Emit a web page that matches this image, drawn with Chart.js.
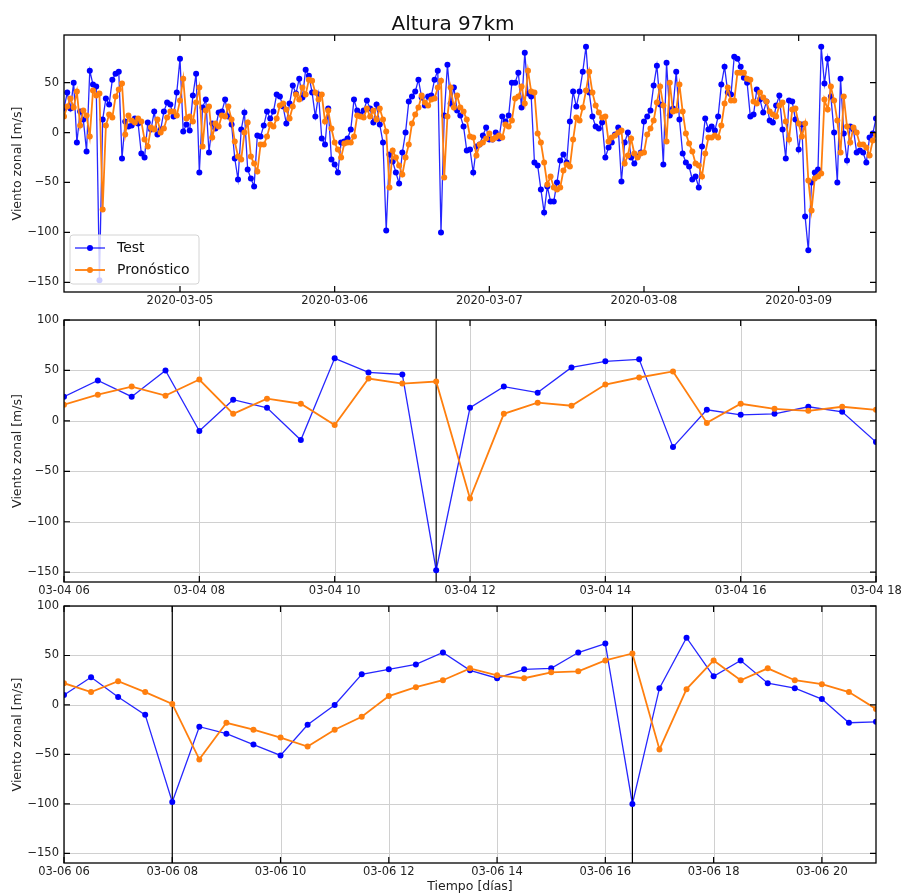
<!DOCTYPE html>
<html>
<head>
<meta charset="utf-8">
<title>Altura 97km</title>
<script src="https://cdn.jsdelivr.net/npm/chart.js@4.4.1/dist/chart.umd.min.js"></script>
<style>
  html, body { margin: 0; padding: 0; background: #fff; }
  body { width: 906px; height: 894px; position: relative; overflow: hidden; }
  canvas { position: absolute; left: 0; }
</style>
</head>
<body>
<canvas id="top" width="906" height="305" style="top:0"></canvas>
<canvas id="mid" width="906" height="295" style="top:305px"></canvas>
<canvas id="bot" width="906" height="294" style="top:600px"></canvas>
<script>
// tiempo en horas desde 2020-03-04 00:00, una muestra cada media hora
var startHour = 6;
var stepHours = 0.5;

var test = [
  24, 40, 24, 50, -10, 21, 13, -19, 62, 48, 46, -148, 13, 34, 28, 53, 59, 61, -26, 11, 6, 7, 14, 9, -21,
  -25, 10, 3, 21, -2, 3, 21, 30, 28, 16, 40, 74, 1, 8, 2, 37, 59, -40, 25, 33, -20, 9, 4, 20, 21,
  33, 16, 8, -26, -47, 3, 20, -37, -46, -54, -3, -4, 7, 21, 14, 21, 38, 36, 26, 9, 29, 47, 39, 54,
  35, 63, 57, 40, 16, 38, -6, -12, 24, -27, -32, -40, -10, -9, -6, 3, 33, 22, 18, 22, 32, 24,
  10, 28, 8, -10, -98, -22, -29, -40, -51, -20, 0, 31, 36, 41, 53, 35, 27, 36, 37, 53, 62, -100, 17, 68, 29, 45, 22, 17, 6, -18, -17,
  -40, -14, -12, -3, 5, -7, -7, 0, -6, 16, 11, 17, 50, 50, 60, 25, 80, 39, 36, -30, -33, -57, -80, -54, -69, -69, -50, -28, -22, -30, 11, 41, 26, 41, 61, 86, 40,
  16, 6, 4, 10, -25, -15, -10, -2, 5, -49, -10, 0, -25, -31, -24, -20, 11, 16, 22, 47, 67, 28, -32, 70, 17, 24, 61, 13, -21, -30, -34, -47, -44, -55, -14, 14, 3,
  6, 2, 16, 48, 66, 40, 38, 76, 74, 66, 55, 50, 16, 18, 43, 33, 20, 31, 12, 10, 27, 37, 3, -26, 32, 31, 13, -17, 8, -84, -118, -50, -40, -37, 86, 49, 74, 36, 0, -50, 54, -1, -28, 6, 3, -20, -18, -20, -30, -5, -1, 14
];

var pronostico = [
  16, 26, 34, 25, 41, 7, 22, 17, -4, 42, 37, 39, -77, 7, 18, 15, 36, 43, 49, -2, 17, 12, 10, 14, 11,
  -7, -14, 5, 3, 13, 0, 4, 15, 21, 21, 17, 32, 54, 14, 16, 11, 30, 45, -14, 22, 26, -5, 9, 6, 17,
  16, 26, 13, -9, -24, -27, 0, 10, -24, -31, -39, -12, -12, -4, 8, 6, 14, 27, 29, 23, 14, 26, 38, 33,
  45, 38, 53, 52, 40, 33, 38, 11, 22, 4, -10, -17, -25, -11, -10, -10, -4, 17, 16, 15, 24, 16,
  22, 13, 24, 13, 1, -55, -18, -25, -33, -42, -25, -12, 9, 18, 25, 37, 30, 27, 33, 34, 45, 52, -45, 16, 45, 25, 37, 25, 21, 13, -4,
  -5, -23, -12, -10, -6, -1, -7, -5, -3, -5, 8, 6, 12, 34, 36, 46, 29, 62, 41, 40, -1, -10, -30, -52, -44, -55, -57, -55, -38, -32, -34, -7, 15, 12, 25, 42, 61,
  40, 27, 20, 15, 16, -9, -5, -3, 0, 2, -31, -23, -6, -21, -25, -21, -20, -2, 4, 12, 30, 46, 27, -9, 50, 21, 22, 48, 21, -1, -11, -19, -31, -33, -44, -21, -5,
  -5, -3, -5, 7, 29, 45, 32, 32, 60, 60, 60, 54, 53, 31, 29, 40, 35, 31, 21, 18, 16, 27, 30, 11, -7, 23, 24, 9, -4, 9, -48, -78, -46, -44, -41, 33, 23, 46, 32, 12, -20, 36, 6, -10, 5, 0, -12, -12, -15, -23, -8, -2
];

// ventanas de los paneles de detalle (indices de las series)
var midRange = [0, 25];
var botRange = [96, 127];

var topXTicks = [24, 48, 72, 96, 120];
var topXLabels = ['2020-03-05', '2020-03-06', '2020-03-07', '2020-03-08', '2020-03-09'];
var midXTicks = [6, 8, 10, 12, 14, 16, 18];
var midXLabels = ['03-04 06', '03-04 08', '03-04 10', '03-04 12', '03-04 14', '03-04 16', '03-04 18'];
var botXTicks = [54, 56, 58, 60, 62, 64, 66, 68];
var botXLabels = ['03-06 06', '03-06 08', '03-06 10', '03-06 12', '03-06 14', '03-06 16', '03-06 18', '03-06 20'];
var topYTicks = [-150, -100, -50, 0, 50];
var yTicks = [-150, -100, -50, 0, 50, 100];
var midMarkers = [11.5];
var botMarkers = [56, 64.5];

var font = "'DejaVu Sans', sans-serif";
var blue = '#0000ff';
var orange = '#ff7f0e';

function toPoints(arr, from, to) {
  var pts = [];
  for (var i = from; i < to; i++) {
    pts.push({ x: startHour + i * stepHours, y: arr[i] });
  }
  return pts;
}

function makeDatasets(from, to) {
  return [
    {
      label: 'Test', data: toPoints(test, from, to), order: 1,
      borderColor: 'rgba(0,0,255,0.85)', borderWidth: 1.3,
      pointRadius: 3, pointBorderWidth: 0, pointBackgroundColor: blue
    },
    {
      label: 'Pronóstico', data: toPoints(pronostico, from, to), order: 0,
      borderColor: orange, borderWidth: 1.8,
      pointRadius: 3, pointBorderWidth: 0, pointBackgroundColor: orange
    }
  ];
}

function fmtY(v) {
  return v < 0 ? '\u2212' + Math.abs(v) : String(v);
}

function panelPlugin(cfg) {
  return {
    id: 'panel',
    beforeDatasetsDraw: function(chart) {
      var ctx = chart.ctx, a = chart.chartArea, sx = chart.scales.x, sy = chart.scales.y;
      ctx.save();
      if (cfg.grid) {
        ctx.strokeStyle = '#d0d0d0';
        ctx.lineWidth = 1;
        ctx.beginPath();
        cfg.xTicks.forEach(function(v) {
          var x = Math.round(sx.getPixelForValue(v)) + 0.5;
          ctx.moveTo(x, a.top); ctx.lineTo(x, a.bottom);
        });
        cfg.yTicks.forEach(function(v) {
          var y = Math.round(sy.getPixelForValue(v)) + 0.5;
          ctx.moveTo(a.left, y); ctx.lineTo(a.right, y);
        });
        ctx.stroke();
      }
      if (cfg.markers) {
        ctx.strokeStyle = '#000';
        ctx.lineWidth = 1.2;
        ctx.beginPath();
        cfg.markers.forEach(function(v) {
          var x = sx.getPixelForValue(v);
          ctx.moveTo(x, a.top); ctx.lineTo(x, a.bottom);
        });
        ctx.stroke();
      }
      ctx.restore();
    },
    afterDatasetsDraw: function(chart) {
      var ctx = chart.ctx, a = chart.chartArea, sx = chart.scales.x, sy = chart.scales.y;
      var tl = 6;
      ctx.save();

      // ticks hacia dentro en los cuatro lados
      ctx.strokeStyle = '#000';
      ctx.lineWidth = 1.2;
      ctx.beginPath();
      cfg.xTicks.forEach(function(v) {
        var x = sx.getPixelForValue(v);
        ctx.moveTo(x, a.bottom); ctx.lineTo(x, a.bottom - tl);
        ctx.moveTo(x, a.top); ctx.lineTo(x, a.top + tl);
      });
      cfg.yTicks.forEach(function(v) {
        var y = sy.getPixelForValue(v);
        ctx.moveTo(a.left, y); ctx.lineTo(a.left + tl, y);
        ctx.moveTo(a.right, y); ctx.lineTo(a.right - tl, y);
      });
      ctx.stroke();

      // marco
      ctx.lineWidth = 1.3;
      ctx.strokeRect(a.left, a.top, a.right - a.left, a.bottom - a.top);

      // etiquetas de los ejes
      ctx.fillStyle = '#222';
      ctx.font = '11.5px ' + font;
      ctx.textAlign = 'center';
      ctx.textBaseline = 'alphabetic';
      cfg.xTicks.forEach(function(v, i) {
        ctx.fillText(cfg.xLabels[i], sx.getPixelForValue(v), a.bottom + 12);
      });
      ctx.textAlign = 'right';
      ctx.textBaseline = 'middle';
      cfg.yTicks.forEach(function(v) {
        ctx.fillText(fmtY(v), a.left - 5, sy.getPixelForValue(v));
      });

      ctx.font = '12.5px ' + font;
      ctx.textAlign = 'center';
      ctx.textBaseline = 'middle';
      ctx.save();
      ctx.translate(18, (a.top + a.bottom) / 2);
      ctx.rotate(-Math.PI / 2);
      ctx.fillText('Viento zonal [m/s]', 0, 0);
      ctx.restore();

      if (cfg.xTitle) {
        ctx.textBaseline = 'alphabetic';
        ctx.fillText(cfg.xTitle, (a.left + a.right) / 2, a.bottom + 27);
      }
      if (cfg.title) {
        ctx.fillStyle = '#111';
        ctx.font = '20px ' + font;
        ctx.textBaseline = 'alphabetic';
        ctx.fillText(cfg.title, 453, 30);
      }

      if (cfg.legend) {
        var lx = 70, ly = 235, lw = 129, lh = 49, r = 3;
        ctx.beginPath();
        ctx.moveTo(lx + r, ly);
        ctx.lineTo(lx + lw - r, ly); ctx.arcTo(lx + lw, ly, lx + lw, ly + r, r);
        ctx.lineTo(lx + lw, ly + lh - r); ctx.arcTo(lx + lw, ly + lh, lx + lw - r, ly + lh, r);
        ctx.lineTo(lx + r, ly + lh); ctx.arcTo(lx, ly + lh, lx, ly + lh - r, r);
        ctx.lineTo(lx, ly + r); ctx.arcTo(lx, ly, lx + r, ly, r);
        ctx.closePath();
        ctx.fillStyle = 'rgba(255,255,255,0.8)';
        ctx.fill();
        ctx.strokeStyle = '#d4d4d4';
        ctx.lineWidth = 1;
        ctx.stroke();

        var rows = [
          { text: 'Test', line: 'rgba(0,0,255,0.85)', dot: blue, w: 1.3, y: 248 },
          { text: 'Pronóstico', line: orange, dot: orange, w: 1.8, y: 270 }
        ];
        ctx.font = '14px ' + font;
        ctx.textAlign = 'left';
        ctx.textBaseline = 'middle';
        rows.forEach(function(row) {
          ctx.strokeStyle = row.line;
          ctx.lineWidth = row.w;
          ctx.beginPath();
          ctx.moveTo(75, row.y); ctx.lineTo(105, row.y);
          ctx.stroke();
          ctx.fillStyle = row.dot;
          ctx.beginPath();
          ctx.arc(90, row.y, 3, 0, Math.PI * 2);
          ctx.fill();
          ctx.fillStyle = '#111';
          ctx.fillText(row.text, 117, row.y);
        });
      }
      ctx.restore();
    }
  };
}

function makeChart(id, from, to, xMin, xMax, yMin, yMax, padding, cfg) {
  return new Chart(document.getElementById(id), {
    type: 'line',
    data: { datasets: makeDatasets(from, to) },
    options: {
      responsive: false,
      animation: false,
      devicePixelRatio: 1,
      events: [],
      layout: { padding: padding },
      plugins: { legend: { display: false }, tooltip: { enabled: false } },
      scales: {
        x: { type: 'linear', display: false, min: xMin, max: xMax },
        y: { type: 'linear', display: false, min: yMin, max: yMax }
      }
    },
    plugins: [panelPlugin(cfg)]
  });
}

makeChart('top', 0, test.length, 6, 132, -159.7, 97.7,
  { left: 64, right: 30, top: 35, bottom: 13 },
  { xTicks: topXTicks, xLabels: topXLabels, yTicks: topYTicks, grid: false,
    title: 'Altura 97km', legend: true });

makeChart('mid', midRange[0], midRange[1], 6, 18, -159.7, 100,
  { left: 64, right: 30, top: 15, bottom: 18 },
  { xTicks: midXTicks, xLabels: midXLabels, yTicks: yTicks, grid: true, markers: midMarkers });

makeChart('bot', botRange[0], botRange[1], 54, 69, -159.7, 100,
  { left: 64, right: 30, top: 6, bottom: 31 },
  { xTicks: botXTicks, xLabels: botXLabels, yTicks: yTicks, grid: true, markers: botMarkers,
    xTitle: 'Tiempo [días]' });
</script>
</body>
</html>
